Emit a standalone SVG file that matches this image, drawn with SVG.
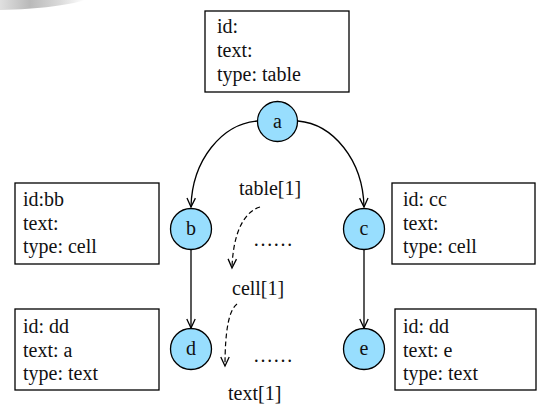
<svg xmlns="http://www.w3.org/2000/svg" width="537" height="405" viewBox="0 0 537 405" font-family="Liberation Serif, Times New Roman, serif" font-size="20">
<style>
  .box { fill: #ffffff; stroke: #000000; stroke-width: 1.3; }
  .node { fill: #98defe; stroke: #000000; stroke-width: 1.3; }
  text { font-family: "Liberation Serif", "Times New Roman", serif; font-size: 20px; fill: #111111; }
  .c { text-anchor: middle; }
  .edge { fill: none; stroke: #000000; stroke-width: 1.3; }
  .dash { fill: none; stroke: #000000; stroke-width: 1.2; stroke-dasharray: 5 3; }
</style>
<defs>
  <marker id="arr" markerUnits="userSpaceOnUse" markerWidth="14" markerHeight="14" viewBox="-10 -7 12 14" refX="0" refY="0" orient="auto">
    <path d="M-9,-4.2 L0,0 L-9,4.2" fill="none" stroke="#000" stroke-width="1.3"/>
  </marker>
  <linearGradient id="smudge" x1="0" y1="0" x2="1" y2="0">
    <stop offset="0" stop-color="#d8d8d8"/>
    <stop offset="0.35" stop-color="#a8a8a8"/>
    <stop offset="0.7" stop-color="#d0d0d0"/>
    <stop offset="1" stop-color="#ffffff"/>
  </linearGradient>
</defs>
<rect width="537" height="405" fill="#ffffff"/>
<path d="M0,0 L85,0 C70,5 40,9 0,10 Z" fill="url(#smudge)" opacity="0.8"/>

<g id="connectors">
  <path class="edge" d="M257,121 C222,124 192,160 191,207" marker-end="url(#arr)"/>
  <path class="edge" d="M298,121 C333,124 363,160 364,207" marker-end="url(#arr)"/>
  <path class="edge" d="M191,249 L191,328" marker-end="url(#arr)"/>
  <path class="edge" d="M364,249 L364,328" marker-end="url(#arr)"/>
  <path class="dash" d="M260,207 C243,212 233,235 232,268" marker-end="url(#arr)"/>
  <path class="dash" d="M237,304 C229,310 225,330 225,366" marker-end="url(#arr)"/>
</g>

<g id="info-a">
  <rect class="box" x="205" y="11" width="144" height="81"/>
  <text x="217" y="33">id:</text>
  <text x="217" y="57">text:</text>
  <text x="217" y="81">type: table</text>
</g>
<g id="info-b">
  <rect class="box" x="15" y="183" width="144" height="81"/>
  <text x="23" y="206">id:bb</text>
  <text x="23" y="230">text:</text>
  <text x="23" y="253">type: cell</text>
</g>
<g id="info-c">
  <rect class="box" x="392" y="183" width="143" height="81"/>
  <text x="403" y="206">id: cc</text>
  <text x="403" y="230">text:</text>
  <text x="403" y="253">type: cell</text>
</g>
<g id="info-d">
  <rect class="box" x="15" y="309" width="144" height="81"/>
  <text x="23" y="333">id: dd</text>
  <text x="23" y="357">text: a</text>
  <text x="23" y="380">type: text</text>
</g>
<g id="info-e">
  <rect class="box" x="395" y="309" width="141" height="81"/>
  <text x="403" y="333">id: dd</text>
  <text x="403" y="357">text: e</text>
  <text x="403" y="380">type: text</text>
</g>

<g id="node-a">
  <circle class="node" cx="277.5" cy="121.5" r="20"/>
  <text class="c" x="277.5" y="127.5">a</text>
</g>
<g id="node-b">
  <circle class="node" cx="191" cy="229" r="20.5"/>
  <text class="c" x="191" y="235">b</text>
</g>
<g id="node-c">
  <circle class="node" cx="364" cy="229" r="20.5"/>
  <text class="c" x="364" y="235">c</text>
</g>
<g id="node-d">
  <circle class="node" cx="191" cy="349" r="20.5"/>
  <text class="c" x="191" y="355">d</text>
</g>
<g id="node-e">
  <circle class="node" cx="364" cy="349" r="20.5"/>
  <text class="c" x="364" y="355">e</text>
</g>

<g id="labels">
  <text x="239" y="195">table[1]</text>
  <text x="253" y="246">……</text>
  <text x="232" y="295">cell[1]</text>
  <text x="253" y="362">……</text>
  <text x="228" y="400">text[1]</text>
</g>
</svg>
